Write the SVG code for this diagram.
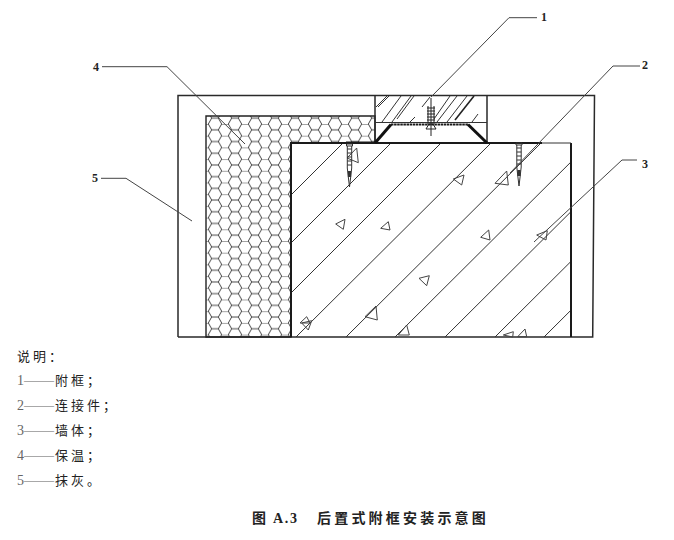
<svg xmlns="http://www.w3.org/2000/svg" width="674" height="540" viewBox="0 0 674 540">
<style>
.ln{fill:none;stroke:#2a2a2a;stroke-width:1.5}
.hv{fill:none;stroke:#1a1a1a;stroke-width:2}
.th{fill:none;stroke:#111;stroke-width:3}
.ht{fill:none;stroke:#333;stroke-width:1}
.ld{fill:none;stroke:#444;stroke-width:1}
.tr{fill:none;stroke:#444;stroke-width:1}
.lb{font-family:"Liberation Serif","Noto Sans CJK SC",serif;font-size:12px;fill:#222;font-weight:700}
.tx{font-family:"Liberation Serif","Noto Sans CJK SC",serif;font-size:13px;letter-spacing:3px;fill:#222}
.dg{font-family:"Liberation Serif",serif;font-size:14px;letter-spacing:0;fill:#666}
.ds{font-family:"Liberation Serif",serif;font-size:15px;letter-spacing:0;fill:#666}
.tt{font-family:"Liberation Serif","Noto Sans CJK SC",serif;font-size:14px;font-weight:700;letter-spacing:3.2px;fill:#222}
</style>
<defs>
<pattern id="hex" width="20" height="11.7" patternUnits="userSpaceOnUse" patternTransform="translate(215 124)">
<path d="M6.67 0H13.33M6.67 0L3.33 5.85M6.67 11.7L3.33 5.85M13.33 0L16.67 5.85M13.33 11.7L16.67 5.85M16.67 5.85H20M0 5.85H3.33" fill="none" stroke="#333" stroke-width="0.9"/>
</pattern>
<clipPath id="wallclip"><rect x="291" y="143" width="280" height="194"/></clipPath>
<g id="screw">
<path d="M-2.2 2V24M2.2 2V24M-3 0H3V2H-3ZM-2.2 5H2.2M-2.2 9H2.2M-2.2 13H2.2M-2.2 17H2.2M-2.2 21H2.2M-2.2 24L-1.2 33L0 43L1.2 33L2.2 24" fill="none" stroke="#333" stroke-width="1"/>
<rect x="-1.6" y="27" width="3.2" height="6" fill="#333"/>
</g>
</defs>
<g id="plaster"><path class="ln" d="M178 337V95.5H594.5L592.7 337H178"/></g>
<g id="insulation"><path d="M206 116H375V143H291V337H206Z" fill="url(#hex)" stroke="#222" stroke-width="1.4"/></g>
<g id="wall">
<g clip-path="url(#wallclip)"><path class="ht" d="M291 195L343 143M291 243L391 143M291 293L441 143M296 337L491 143M346 337L541 143M395 337L590 143M445 337L640 143M495 337L690 143M544 337L739 143"/></g>
<path class="hv" d="M291 337V143H542"/>
<path class="hv" d="M571 337V143"/>
<path class="ht" d="M542 143H571"/>
<path class="tr" d="M335.7 224L345 219.3L343.3 229.3ZM380.7 228.3L388.3 221.7L390 230ZM419 278.3L429.3 275.7L426.7 285.7ZM480.7 237.3L488.7 230L490 240ZM536.7 235L547.3 230.7L546 240ZM398.3 335L406.7 325L409.3 335ZM517.7 336.7L525 329L526.7 336.7ZM503.3 335L513.3 331.7L512.7 337ZM453.3 179L464 175L461.7 185ZM495 183.3L506.7 171L508.3 185ZM356.7 148L347 158L358.3 162.7ZM300 323L306.7 316.7L310 323ZM301.7 323L311.7 320.7L308.3 330ZM365 316.7L376 306L377.3 320Z"/>
</g>
<g id="frame">
<path class="ht" d="M376 107L387 96M378 107L389 96M382 122L401 96M392 122L411 96M397 119L414 96M410 122L415 117M422 107L430 97M434 119L450 96M437 122L457 96M447 122L467 96M472 122L478 114"/>
<path fill="none" stroke="#222" stroke-width="1.6" d="M455 120L474 96"/>
<path class="ln" d="M375 95.5V143M487 95.5V143"/>
<path fill="none" stroke="#333" stroke-width="1" d="M375 122.5H487"/>
<path fill="none" stroke="#222" stroke-width="1" d="M426 129L429 124H433L436 129ZM431 98V136M428 106V124M434 106V124M427 108H435M427 111H435M427 114H435M427 117H435M427 120H435"/>
</g>
<g id="connector">
<path class="hv" d="M346 142.5H375"/>
<path class="th" d="M375 143L391 124.5"/>
<path class="hv" d="M391 124.5H468" stroke-dasharray="2.5 0.6"/>
<path class="th" d="M468 124.5L487 143"/>
<use href="#screw" x="349.5" y="144"/>
<use href="#screw" x="519" y="143"/>
</g>
<g id="connectors">
<path class="ld" d="M537 17.7H509L431 97"/>
<path class="ld" d="M640 66H613L510 173"/>
<path class="ld" d="M637 160H622L534 242"/>
<path class="ld" d="M102 66.7H167L245 144"/>
<path class="ld" d="M101 178.3H126L192 221"/>
</g>
<g id="labels">
<text class="lb" x="541" y="21">1</text>
<text class="lb" x="642" y="69">2</text>
<text class="lb" x="642" y="168">3</text>
<text class="lb" x="93" y="71">4</text>
<text class="lb" x="92" y="182">5</text>
</g>
<g id="legend">
<text class="tx" x="17" y="361">说明：</text>
<text class="tx" y="385"><tspan class="dg" x="17">1</tspan><tspan class="ds" x="24">——</tspan><tspan x="55">附框；</tspan></text>
<text class="tx" y="410"><tspan class="dg" x="17">2</tspan><tspan class="ds" x="24">——</tspan><tspan x="55">连接件；</tspan></text>
<text class="tx" y="435"><tspan class="dg" x="17">3</tspan><tspan class="ds" x="24">——</tspan><tspan x="55">墙体；</tspan></text>
<text class="tx" y="460"><tspan class="dg" x="17">4</tspan><tspan class="ds" x="24">——</tspan><tspan x="55">保温；</tspan></text>
<text class="tx" y="485"><tspan class="dg" x="17">5</tspan><tspan class="ds" x="24">——</tspan><tspan x="55">抹灰。</tspan></text>
</g>
<g id="title">
<text class="tt" y="523"><tspan x="252">图</tspan><tspan x="273" letter-spacing="1.75">A.3</tspan><tspan x="317">后置式附框安装示意图</tspan></text>
</g>
</svg>
